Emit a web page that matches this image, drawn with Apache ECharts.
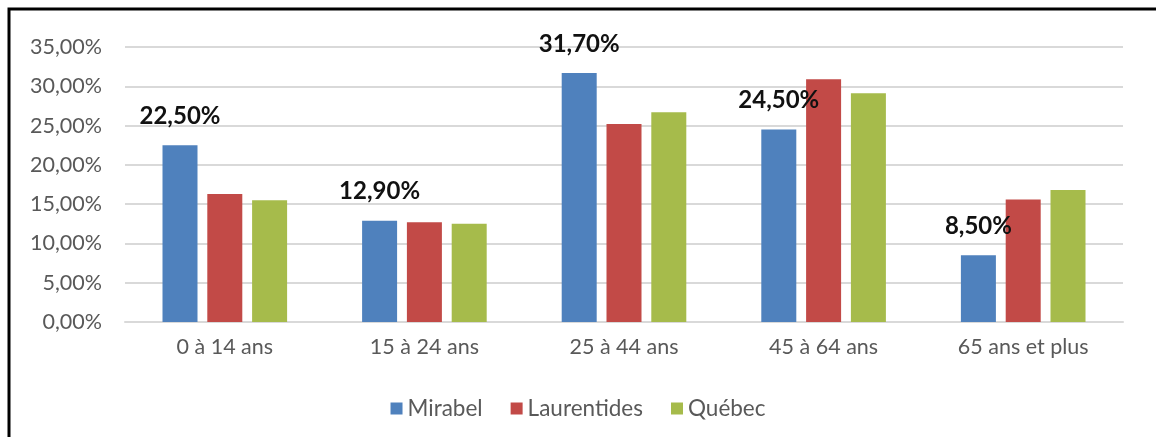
<!DOCTYPE html>
<html>
<head>
<meta charset="utf-8">
<script src="https://cdn.jsdelivr.net/npm/echarts@6/dist/echarts.min.js"></script>
<style>
html,body{margin:0;padding:0;background:#fff;}
#c{width:1156px;height:437px;}
</style>
</head>
<body>
<div id="c"></div>
<script>
var categories = ["0 à 14 ans", "15 à 24 ans", "25 à 44 ans", "45 à 64 ans", "65 ans et plus"];
var mirabel = [22.5, 12.9, 31.7, 24.5, 8.5];
var laurentides = [16.3, 12.7, 25.2, 30.9, 15.6];
var quebec = [15.5, 12.5, 26.7, 29.1, 16.8];
var seriesNames = ["Mirabel", "Laurentides", "Québec"];
var colors = ["#4f81bd", "#c24a47", "#a6bb4b"];

function pct(v) { return v.toFixed(2).replace('.', ',') + '%'; }

var FONT = 'Lato';
var chart = echarts.init(document.getElementById('c'));
chart.setOption({
  animation: false,
  backgroundColor: '#fff',
  textStyle: { fontFamily: FONT },
  graphic: [{
    type: 'rect',
    shape: { x: 9, y: 9, width: 1300, height: 600 },
    style: { fill: 'none', stroke: '#000', lineWidth: 3 },
    silent: true
  }],
  legend: {
    data: seriesNames,
    bottom: 12,
    left: 'center',
    itemWidth: 12,
    itemHeight: 12,
    itemGap: 28,
    icon: 'rect',
    textStyle: { fontFamily: FONT, fontSize: 22.5, color: '#595959' }
  },
  grid: { left: 125, right: 33, top: 47, bottom: 115, containLabel: false },
  xAxis: {
    type: 'category',
    data: categories,
    axisLine: { lineStyle: { color: '#d9d9d9', width: 2 } },
    axisTick: { show: false },
    axisLabel: { fontFamily: FONT, fontSize: 21.5, color: '#595959', margin: 14 }
  },
  yAxis: {
    type: 'value',
    min: 0, max: 35, interval: 5,
    axisLine: { show: false },
    axisTick: { show: false },
    splitLine: { lineStyle: { color: '#d9d9d9', width: 2 } },
    axisLabel: { fontFamily: FONT, fontSize: 21.5, color: '#595959', margin: 23, formatter: function(v){ return pct(v); } }
  },
  series: [
    { name: seriesNames[0], type: 'bar', data: mirabel, barWidth: 35, barGap: '28%',
      itemStyle: { color: colors[0] },
      label: { show: true, position: 'top', distance: 17, fontFamily: FONT, fontSize: 24, fontWeight: 'bold', color: '#111',
        formatter: function(p){ return pct(p.value); } } },
    { name: seriesNames[1], type: 'bar', data: laurentides, barWidth: 35, barGap: '28%', itemStyle: { color: colors[1] } },
    { name: seriesNames[2], type: 'bar', data: quebec, barWidth: 35, barGap: '28%', itemStyle: { color: colors[2] } }
  ]
});
</script>
</body>
</html>
